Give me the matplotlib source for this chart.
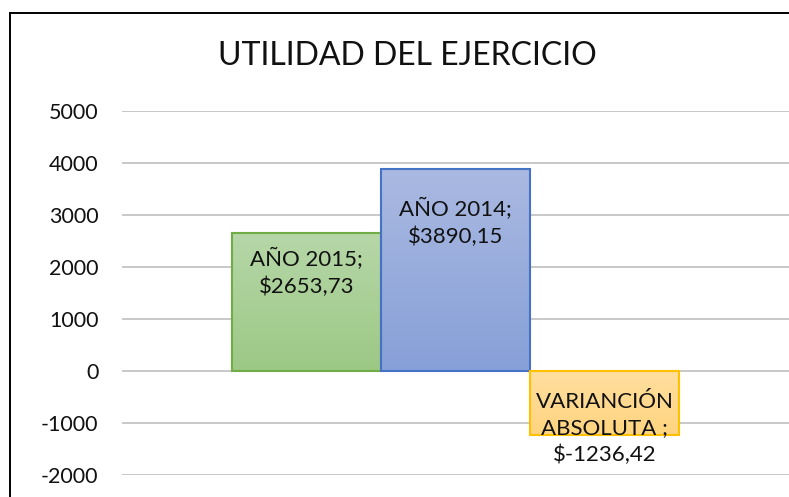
import matplotlib
matplotlib.use('Agg')

import numpy as np
import matplotlib.pyplot as plt
from matplotlib.colors import LinearSegmentedColormap
from matplotlib.patches import Rectangle
from matplotlib.lines import Line2D


# chart data
categories = ["AÑO 2015", "AÑO 2014", "VARIANCIÓN\nABSOLUTA "]
values = [2653.73, 3890.15, -1236.42]
y_ticks = [-2000, -1000, 0, 1000, 2000, 3000, 4000, 5000]
title = "UTILIDAD DEL EJERCICIO"

# styling (top colour, bottom colour, edge colour)
bar_styles = [
    ("#b6d7a8", "#9cc885", "#70ad47"),
    ("#aab9e1", "#87a0d8", "#4472c4"),
    ("#ffdf9f", "#ffd47f", "#ffc000"),
]
# pixel distance from bar end (or zero line) to the centre of the label block
label_offsets_px = [39.5, 53.5, 57.5]

plt.rcParams['font.family'] = ['Lato', 'DejaVu Sans']

W, H = 789, 497
fig = plt.figure(figsize=(W / 100, H / 100), dpi=100)

ax_left, ax_right = 122, 789
ax_top, ax_bottom = 111, 475
ax = fig.add_axes([ax_left / W, (H - ax_bottom) / H, (ax_right - ax_left) / W, (ax_bottom - ax_top) / H])

x = np.arange(len(values))
bar_w = 1.0
bar_px = 149
half_span = (ax_right - ax_left) / bar_px / 2

bars = ax.bar(x, values, width=bar_w, color="none", zorder=3)

# gradient fill for each bar + border
for bar, (c_top, c_bot, c_edge) in zip(bars, bar_styles):
    x0 = bar.get_x()
    y0 = bar.get_y()
    h = bar.get_height()
    lo, hi = min(y0, y0 + h), max(y0, y0 + h)
    cmap = LinearSegmentedColormap.from_list("g", [c_bot, c_top])
    grad = np.linspace(0, 1, 256).reshape(-1, 1)
    ax.imshow(grad, extent=(x0, x0 + bar.get_width(), lo, hi), origin="lower",
              cmap=cmap, aspect="auto", zorder=3)
    ax.add_patch(Rectangle((x0, lo), bar.get_width(), hi - lo, fill=False,
                           edgecolor=c_edge, linewidth=1.5, zorder=4))

ax.set_aspect("auto")
ax.set_xlim(1 - half_span, 1 + half_span)
ax.set_ylim(y_ticks[0], y_ticks[-1])

# data labels (inside end)
for xi, val, cat, off in zip(x, values, categories, label_offsets_px):
    amount = f"${val:.2f}".replace(".", ",")
    ref = max(val, 0)
    ax.annotate(f"{cat};\n{amount}", xy=(xi, ref), xytext=(0, -off * 72 / 100),
                textcoords="offset points", ha="center", va="center",
                fontsize=16, linespacing=1.4, color="#111111", zorder=5,
                annotation_clip=False)

ax.set_yticks(y_ticks)
ax.set_yticklabels([str(t) for t in y_ticks], fontsize=15.5, color="#111111")
ax.tick_params(axis="y", length=0, pad=17)
ax.set_xticks([])
ax.grid(axis="y", color="#bfbfbf", linewidth=1.2, zorder=0)
ax.set_axisbelow(True)
for s in ax.spines.values():
    s.set_visible(False)

fig.text(407 / W, (H - 56) / H, title, ha="center", va="center", fontsize=23, color="#111111")

# chart frame (only left and top edges are inside the picture)
fl, ft = 9.5 / W, (H - 12.5) / H
fig.add_artist(Line2D([fl, fl], [0, ft], transform=fig.transFigure, color="black", linewidth=1.4))
fig.add_artist(Line2D([fl, 1], [ft, ft], transform=fig.transFigure, color="black", linewidth=1.4))

fig.savefig("out.png", dpi=100)
